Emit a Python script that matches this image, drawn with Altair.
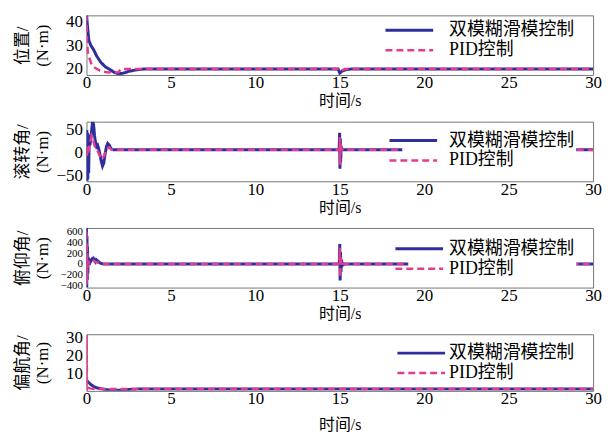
import altair as alt
import pandas as pd

FONT = "Liberation Serif, Noto Sans CJK SC"
S1 = "双模糊滑模控制"
S2 = "PID控制"
BLUE = "#2e2e9e"
PINK = "#e43c8c"
XTICKS = [0, 5, 10, 15, 20, 25, 30]

# ---- panel 1: 位置 ----
t1_fsm = [0, 0.07, 0.14, 0.25, 0.43, 0.6, 0.83, 1.1, 1.4, 1.65, 1.9, 2.2, 2.5, 2.9, 3.4, 4.0, 14.9, 15.0, 15.15, 15.4, 15.7, 30]
y1_fsm = [43, 37, 32, 30, 28, 25.5, 23, 21, 19.7, 18.6, 18.0, 18.3, 19.0, 19.6, 20, 20, 20, 18.3, 19.2, 19.8, 20, 20]
t1_pid = [0, 0.03, 0.08, 0.15, 0.3, 0.5, 0.8, 1.2, 1.6, 1.9, 2.0, 2.1, 15.0, 15.1, 15.3, 30]
y1_pid = [43, 32, 27, 25, 22, 20.5, 19.3, 18.6, 18.5, 18.6, 19.8, 20, 20, 19.3, 20, 20]

# ---- panel 2: 滚转角 ----
t2_fsm = [0, 0.02, 0.04, 0.06, 0.08, 0.1, 0.13, 0.16, 0.2, 0.25, 0.3, 0.36, 0.42, 0.48, 0.54, 0.6, 0.66, 0.72,
          0.8, 0.88, 0.95, 1.02, 1.1, 1.18, 1.26, 1.34, 1.42, 1.5, 1.6, 14.96, 14.99, 15.01, 15.03, 15.05, 15.08,
          15.12, 15.2, 30]
y2_fsm = [0, 48, -62, 42, -58, 38, -45, 28, 15, 25, 45, 66, 60, 35, 20, 12, 15, 8,
          -5, -20, -30, -24, -5, 12, 19, 16, 10, 6, 5, 5, 42, -36, 30, -22, 12,
          8, 5, 5]
t2_pid = [0, 0.03, 0.06, 0.1, 0.15, 0.2, 0.3, 0.4, 0.5, 0.6, 0.75, 0.9, 1.05, 1.2, 1.35, 1.5, 14.98, 15.0, 15.02,
          15.05, 15.1, 15.2, 30]
y2_pid = [0, -8, 12, -4, 10, 18, 35, 25, 12, 8, -5, -15, -8, 8, 10, 5, 5, 32, -28,
          18, 8, 5, 5]

# ---- panel 3: 俯仰角 ----
t3_fsm = [0, 0.015, 0.03, 0.045, 0.06, 0.08, 0.1, 0.13, 0.17, 0.22, 0.28, 0.34, 0.4, 0.46, 0.52, 0.58, 0.65, 0.75,
          0.85, 1.0, 14.97, 15.0, 15.02, 15.04, 15.07, 15.1, 15.15, 15.25, 30]
y3_fsm = [670, -440, 520, -300, 320, -180, 120, 20, 60, 30, 70, 100, 110, 70, 40, 80, 60, 30,
          10, 0, 0, 370, -310, 220, -150, 80, -30, 0, 0]
t3_pid = [0, 0.01, 0.025, 0.04, 0.055, 0.07, 0.1, 0.15, 0.25, 0.35, 0.5, 0.7, 0.9, 14.98, 15.0, 15.03, 15.06, 15.1,
          15.2, 30]
y3_pid = [600, -400, 400, -250, 200, -80, 60, 20, 50, 80, 40, 20, 0, 0, 300, -250, 150, -50,
          0, 0]

# ---- panel 4: 偏航角 ----
t4_fsm = [0, 0.1, 0.25, 0.4, 0.6, 0.9, 1.2, 1.6, 2.0, 2.5, 3.0, 30]
y4_fsm = [6, 5, 3.6, 2.6, 1.7, 1.1, 0.6, 0.3, 0.4, 0.8, 1.0, 1.0]
t4_pid = [0, 0.01, 0.03, 0.08, 0.2, 0.5, 1.0, 30]
y4_pid = [0, 31.5, 3, 1.8, 1.4, 1.1, 1.0, 1.0]


def panel(ta, ya, tb, yb, ydom, yticks, ytitle, sym_cx, row1_cy, height, lab_size, xtitle_pad):
    df = pd.DataFrame({
        "t": ta + tb,
        "v": ya + yb,
        "s": [S1] * len(ta) + [S2] * len(tb),
    })
    pad = 2
    lx = sym_cx - 11
    ly = row1_cy - 9 - pad
    leg = alt.Legend(
        title=None, orient="none", legendX=lx, legendY=ly,
        symbolType="M-4.8,0H4.8", symbolSize=100, symbolStrokeWidth=3,
        labelFont=FONT, labelFontSize=18, labelColor="black",
        labelOffset=364 - (lx - 3) - 22, labelLimit=300,
        fillColor="white", padding=pad, rowPadding=2,
    )
    return alt.Chart(df).mark_line(clip=True).encode(
        x=alt.X("t:Q", scale=alt.Scale(domain=[0, 30], nice=False, zero=False),
                axis=alt.Axis(values=XTICKS, title="时间/s", grid=False, ticks=False, domain=False,
                              labelFont=FONT, labelFontSize=17, labelColor="black", labelPadding=0,
                              labelFlush=False, labelOverlap=False,
                              titleFont=FONT, titleFontSize=16, titleFontWeight="normal",
                              titleColor="black", titlePadding=xtitle_pad)),
        y=alt.Y("v:Q", scale=alt.Scale(domain=ydom, nice=False, zero=False),
                axis=alt.Axis(values=yticks, title=ytitle, grid=False, ticks=False, domain=False,
                              labelFont=FONT, labelFontSize=lab_size, labelColor="black", labelPadding=4,
                              labelFlush=False, labelOverlap=False,
                              titleFont=FONT, titleFontSize=17, titleFontWeight="normal",
                              titleColor="black", titleAngle=270, titleX=-64, titleY=height / 2,
                              titleAlign="center", titleBaseline="middle", titleLineHeight=20)),
        color=alt.Color("s:N", scale=alt.Scale(domain=[S1, S2], range=[BLUE, PINK]), legend=leg),
        strokeDash=alt.StrokeDash("s:N", scale=alt.Scale(domain=[S1, S2], range=[[1, 0], [7, 4]]), legend=leg),
        strokeWidth=alt.StrokeWidth("s:N", scale=alt.Scale(domain=[S1, S2], range=[3, 2.5]), legend=None),
    ).properties(width=510, height=height)


p1 = panel(t1_fsm, y1_fsm, t1_pid, y1_pid, [17.5, 42.5], [20, 30, 40], ["位置/", "(N·m)"], 325, 15, 60, 17, 2)
p2 = panel(t2_fsm, y2_fsm, t2_pid, y2_pid, [-63, 66], [-50, 0, 50], ["滚转角/", "(N·m)"], 329, 19, 60, 17, 2)
p3 = panel(t3_fsm, y3_fsm, t3_pid, y3_pid, [-440, 670], [-400, -200, 0, 200, 400, 600], ["俯仰角/", "(N·m)"], 335, 21, 60, 11, 2)
p4 = panel(t4_fsm, y4_fsm, t4_pid, y4_pid, [0, 31.8], [10, 20, 30], ["偏航角/", "(N·m)"], 337, 19, 57, 17, 10)

chart = alt.vconcat(p1, p2, p3, p4, spacing=47, bounds="flush").resolve_scale(
    color="independent", strokeDash="independent", strokeWidth="independent"
).resolve_legend(color="independent", strokeDash="independent").properties(
    padding={"left": 5, "top": 2, "right": 5, "bottom": 0}, background="white"
).configure_view(stroke="#777777", strokeWidth=1)

chart.save("out.html", embed_options={"renderer": "svg", "actions": False})
